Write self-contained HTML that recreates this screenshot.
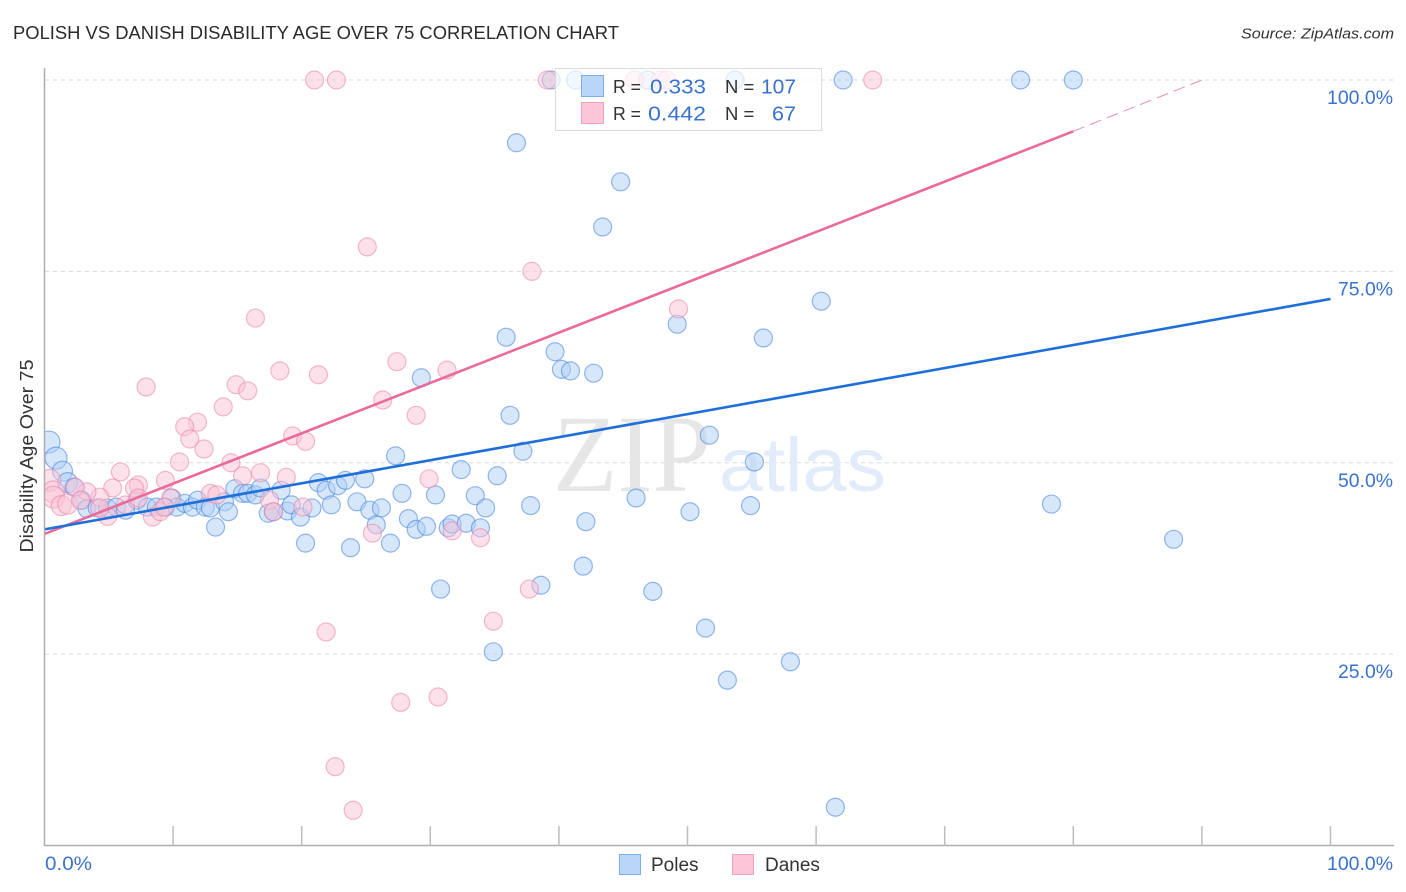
<!DOCTYPE html>
<html lang="en">
<head>
<meta charset="utf-8">
<title>Polish vs Danish Disability Age Over 75 Correlation Chart</title>
<style>
html,body{margin:0;padding:0;background:#fff}
svg{display:block}
text{font-family:"Liberation Sans",sans-serif}
</style>
</head>
<body>
<svg id="chart" xmlns="http://www.w3.org/2000/svg" width="1406" height="892" viewBox="0 0 1406 892">
  <defs><clipPath id="plot-clip"><rect x="44.5" y="60" width="1350" height="786"/></clipPath></defs>
  <rect x="0" y="0" width="1406" height="892" fill="#ffffff"/>
  <text x="13" y="39" font-size="18.5" fill="#2b2b2b" textLength="606" lengthAdjust="spacingAndGlyphs">POLISH VS DANISH DISABILITY AGE OVER 75 CORRELATION CHART</text>
  <text x="1394" y="38.5" font-size="15" font-style="italic" fill="#333" text-anchor="end" textLength="153" lengthAdjust="spacingAndGlyphs">Source: ZipAtlas.com</text>
  <g id="grid"></g>
  <g>
    <text x="553" y="491" font-size="110" fill="#e6e6e6" textLength="158" lengthAdjust="spacingAndGlyphs" style="font-family:'Liberation Serif',serif">ZIP</text>
    <text x="719" y="491" font-size="76" fill="#e1ebfa" textLength="167" lengthAdjust="spacingAndGlyphs">atlas</text>
  </g>
  <g id="points" clip-path="url(#plot-clip)"></g>
  <g id="trends"></g>
  <g id="axes"></g>
  <text transform="translate(33,456) rotate(-90)" font-size="18.5" fill="#333" text-anchor="middle" textLength="193" lengthAdjust="spacingAndGlyphs">Disability Age Over 75</text>

  <g>
    <rect x="555.5" y="68.5" width="266" height="62" fill="#ffffff" fill-opacity="0.7" stroke="#dcdcdc" stroke-width="1"/>
    <rect x="581.5" y="75.5" width="22" height="21" fill="#b9d5f9" stroke="#7eaee8"/>
    <rect x="581.5" y="102.5" width="22" height="21" fill="#fcc5d8" stroke="#f0a3bd"/>
    <text x="613" y="93" font-size="18.5" fill="#333" textLength="28" lengthAdjust="spacingAndGlyphs">R =</text>
    <text x="650" y="93.5" font-size="20.5" fill="#3a72d0" textLength="56" lengthAdjust="spacingAndGlyphs">0.333</text>
    <text x="725" y="93" font-size="18.5" fill="#333">N =</text>
    <text x="761" y="93.5" font-size="20.5" fill="#3a72d0" textLength="35" lengthAdjust="spacingAndGlyphs">107</text>
    <text x="613" y="120" font-size="18.5" fill="#333" textLength="28" lengthAdjust="spacingAndGlyphs">R =</text>
    <text x="648" y="120.5" font-size="20.5" fill="#3a72d0" textLength="58" lengthAdjust="spacingAndGlyphs">0.442</text>
    <text x="725" y="120" font-size="18.5" fill="#333">N =</text>
    <text x="772" y="120.5" font-size="20.5" fill="#3a72d0" textLength="24" lengthAdjust="spacingAndGlyphs">67</text>
  </g>

  <g>
    <rect x="619.5" y="854.5" width="21" height="20" fill="#b9d5f9" stroke="#7eaee8"/>
    <text x="651" y="871" font-size="19" fill="#333">Poles</text>
    <rect x="732.5" y="854.5" width="21" height="20" fill="#fcc5d8" stroke="#f0a3bd"/>
    <text x="765" y="871" font-size="19" fill="#333">Danes</text>
  </g>
</svg>
<script>
const xTickValues = [10, 20, 30, 40, 50, 60, 70, 80, 90, 100];
const yTickValues = [25, 50, 75, 100];
const yTickLabels = ["25.0%", "50.0%", "75.0%", "100.0%"];
const xEndLabels = ["0.0%", "100.0%"];

const polesX = [39.4,41.3,46.9,53.7,62.1,75.9,80.0,36.7,44.8,43.4,60.4,49.2,55.9,35.9,39.7,40.2,40.9,42.7,29.3,36.2,51.7,37.2,27.3,55.2,32.4,35.2,24.9,27.8,30.4,33.5,24.3,25.3,26.2,34.3,37.8,46.0,50.2,54.9,78.3,28.3,28.9,29.7,25.8,31.4,31.7,32.8,33.9,42.1,26.9,23.8,20.3,87.8,41.9,38.6,47.3,30.8,51.4,34.9,58.0,53.1,61.5,0.35,0.9,1.4,1.8,2.3,2.9,3.3,4.1,4.9,5.6,6.3,7.2,8.0,8.7,9.4,9.9,10.3,10.9,11.5,11.9,12.5,12.9,14.0,14.3,13.3,14.8,15.4,15.8,16.4,16.8,18.4,17.4,17.8,18.9,19.2,19.9,20.8,21.3,21.9,22.3,22.8,23.4];
const polesY = [100,100,100,100,100,100,100,91.8,86.7,80.8,71.1,68.1,66.3,66.4,64.5,62.2,62.0,61.7,61.1,56.2,53.6,51.5,50.9,50.1,49.1,48.3,47.9,46.0,45.8,45.7,44.9,43.8,44.1,44.1,44.4,45.4,43.6,44.4,44.6,42.7,41.3,41.7,41.9,41.5,42.0,42.1,41.5,42.3,39.5,38.9,39.5,40.0,36.5,34.0,33.2,33.5,28.4,25.3,24.0,21.6,5.0,52.7,50.6,48.9,47.4,46.8,45.1,44.0,44.1,44.1,44.2,43.8,45.1,44.2,44.2,44.2,45.4,44.2,44.7,44.2,45.1,44.2,44.1,44.9,43.6,41.6,46.6,46.0,46.0,45.8,46.7,46.4,43.4,43.6,43.7,44.5,42.9,44.1,47.4,46.4,44.5,47.0,47.7];

const danesX = [21.0,22.7,39.1,45.9,47.9,48.4,64.4,25.1,37.9,49.3,16.4,27.4,31.3,18.3,21.3,7.9,14.9,15.8,13.9,26.3,28.9,11.9,10.9,11.3,12.4,19.3,20.3,10.5,14.5,5.9,15.4,16.8,18.8,9.4,29.9,5.3,7.3,7.0,4.3,3.3,2.4,0.4,0.7,0.7,1.3,1.8,2.8,12.9,13.4,17.5,17.8,20.1,8.4,4.9,9.0,9.8,6.3,7.3,4.3,9.3,25.5,31.7,33.9,37.7,34.9,21.9,30.6,27.7,22.6,24.0];
const danesY = [100,100,100,100,100,100,100,78.2,75.0,70.1,68.9,63.2,62.1,62.0,61.5,59.9,60.2,59.4,57.3,58.2,56.2,55.3,54.7,53.1,51.8,53.5,52.8,50.1,50.0,48.8,48.3,48.7,48.1,47.7,47.9,46.7,47.1,46.7,45.5,46.2,46.8,47.7,46.2,45.5,44.4,44.6,45.1,46.0,45.8,45.1,43.6,44.2,42.9,43.0,43.6,45.4,44.5,45.4,44.1,44.2,40.8,41.1,40.2,33.5,29.3,27.9,19.4,18.7,10.3,4.6];

const polesTrendX = [0, 100];
const polesTrendY = [41.3, 71.4];
const danesTrendX = [0, 80];
const danesTrendY = [40.7, 93.3];
const danesExtensionX = [80, 90];
const danesExtensionY = [93.3, 100];

const xScale = v => 44.5 + v * 12.86;
const yScale = v => 845.5 - v * 7.655;
const pointRadius = v => (v < 1 ? 11 : v < 2 ? 10 : 9);
const NS = 'http://www.w3.org/2000/svg';
const gridLayer = document.getElementById('grid');
const pointLayer = document.getElementById('points');
const trendLayer = document.getElementById('trends');
const axisLayer = document.getElementById('axes');

function line(parent, x1, y1, x2, y2, stroke, width, dash) {
  const el = document.createElementNS(NS, 'line');
  el.setAttribute('x1', x1);
  el.setAttribute('y1', y1);
  el.setAttribute('x2', x2);
  el.setAttribute('y2', y2);
  el.setAttribute('stroke', stroke);
  el.setAttribute('stroke-width', width);
  if (dash) el.setAttribute('stroke-dasharray', dash);
  parent.appendChild(el);
  return el;
}
function label(parent, x, y, str, anchor, len) {
  const el = document.createElementNS(NS, 'text');
  el.setAttribute('x', x);
  el.setAttribute('y', y);
  el.setAttribute('font-size', '19');
  el.setAttribute('fill', '#3a72d0');
  el.setAttribute('text-anchor', anchor);
  el.setAttribute('textLength', len);
  el.setAttribute('lengthAdjust', 'spacingAndGlyphs');
  el.textContent = str;
  parent.appendChild(el);
  return el;
}

yTickValues.forEach(function (v, i) {
  const g = line(gridLayer, 45, yScale(v), 1393, yScale(v), '#d9d9d9', 1, '4 4');
  
  
  const str = yTickLabels[i];
  const t = label(axisLayer, 1393, yScale(v) + 24, str, 'end', str.length > 5 ? 66 : 55);
  
  
});

function drawPoints(xs, ys, fill, stroke, name) {
  xs.forEach(function (x, i) {
    const c = document.createElementNS(NS, 'circle');
    c.setAttribute('cx', xScale(x));
    c.setAttribute('cy', yScale(ys[i]));
    c.setAttribute('r', pointRadius(x));
    c.setAttribute('fill', fill);
    c.setAttribute('fill-opacity', '0.5');
    c.setAttribute('stroke', stroke);
    c.setAttribute('stroke-opacity', '0.55');
    c.setAttribute('stroke-width', '1.2');
    
    
    pointLayer.appendChild(c);
  });
}
drawPoints(polesX, polesY, '#b0d0f6', '#3f7fdc', 'poles-point');
drawPoints(danesX, danesY, '#f9c3d5', '#ea82a5', 'danes-point');

const danesTrend = line(trendLayer, xScale(danesTrendX[0]), yScale(danesTrendY[0]), xScale(danesTrendX[1]), yScale(danesTrendY[1]), '#ea6a9a', 2.6);


const danesExt = line(trendLayer, xScale(danesExtensionX[0]), yScale(danesExtensionY[0]), xScale(danesExtensionX[1]), yScale(danesExtensionY[1]), '#ea8fb0', 1, '12 6');


const polesTrend = line(trendLayer, xScale(polesTrendX[0]), yScale(polesTrendY[0]), xScale(polesTrendX[1]), yScale(polesTrendY[1]), '#1f6fdb', 2.6);



const yAxis = line(axisLayer, 44.5, 68, 44.5, 846, '#aeaeae', 1.5);


const xAxis = line(axisLayer, 44, 845.5, 1394, 845.5, '#aeaeae', 1.5);


xTickValues.forEach(function (v) {
  const t = line(axisLayer, xScale(v), 826, xScale(v), 846, '#bdbdbd', 1.5);
  
  
});
const xMin = label(axisLayer, 45, 870, xEndLabels[0], 'start', 47);


const xMax = label(axisLayer, 1393, 870, xEndLabels[1], 'end', 66);


</script>
</body>
</html>
